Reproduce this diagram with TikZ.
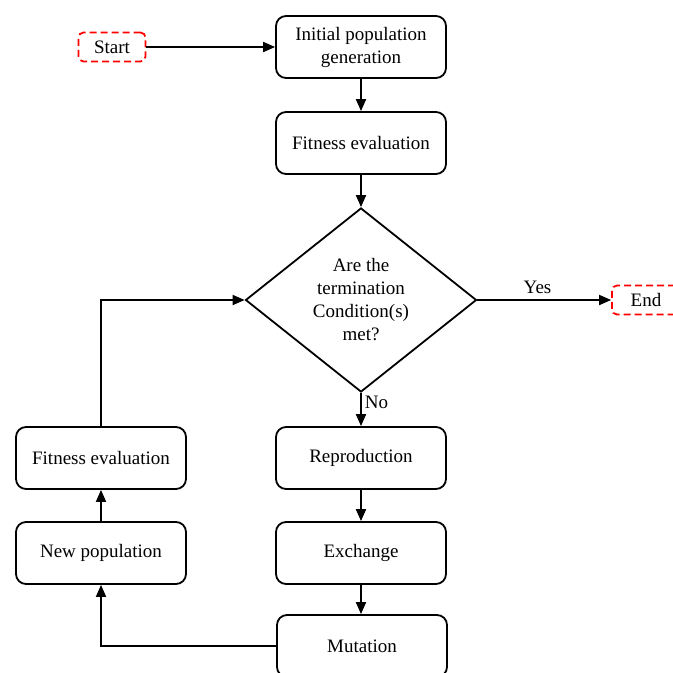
\documentclass[tikz,border=0pt]{standalone}
\usepackage{fontspec}
\setmainfont{Liberation Serif}
\usetikzlibrary{shapes.geometric,arrows.meta}
\begin{document}
\begin{tikzpicture}[x=1pt,y=-1pt,
  txt/.style={font=\fontsize{19}{23}\selectfont},
  box/.style={txt,draw,line width=1.8pt,rounded corners=10pt,minimum width=170pt,
    minimum height=62pt,align=center,inner sep=0pt},
  term/.style={txt,draw=red,dashed,dash pattern=on 7pt off 4pt,line width=1.8pt,
    rounded corners=5pt,minimum width=67pt,minimum height=29pt,inner sep=0pt},
  decision/.style={txt,draw,diamond,line width=1.8pt,minimum width=231pt,
    minimum height=184pt,inner sep=0pt,align=center},
  flow/.style={line width=1.8pt,-{Triangle[length=12pt,width=10pt]}},
  lbl/.style={txt,inner sep=3pt}]
\useasboundingbox (0,0) rectangle (673,673);
\clip (0,0) rectangle (673,673);

% main column
\node[term] (start) at (112,47) {Start};
\node[box] (init) at (361,47) {Initial population\\generation};
\node[box] (fit1) at (361,143) {Fitness evaluation};
\node[decision] (cond) at (361,300) {Are the\\termination\\Condition(s)\\met?};
\node[term,minimum width=68pt] (end) at (646,300) {End};
\node[box] (repro) at (361,458) {Reproduction};
\node[box] (exch) at (361,553) {Exchange};
\node[box] (mut) at (362,646) {Mutation};

% feedback column
\node[box] (fit2) at (101,458) {Fitness evaluation};
\node[box] (newpop) at (101,553) {New population};

% connectors
\draw[flow] (start) -- (init);
\draw[flow] (init) -- (fit1);
\draw[flow] (fit1) -- (cond.north);
\draw[flow] (cond.east) -- node[lbl,above,pos=0.45,inner sep=5pt] {Yes} (end.west);
\draw[flow] (cond.south) -- node[lbl,right,pos=0.3] {No} (repro);
\draw[flow] (repro) -- (exch);
\draw[flow] (exch.south) -- (exch.south |- mut.north);
\draw[flow] (mut.west) -| (newpop.south);
\draw[flow] (newpop) -- (fit2);
\draw[flow] (fit2.north) |- (cond.west);
\end{tikzpicture}
\end{document}
